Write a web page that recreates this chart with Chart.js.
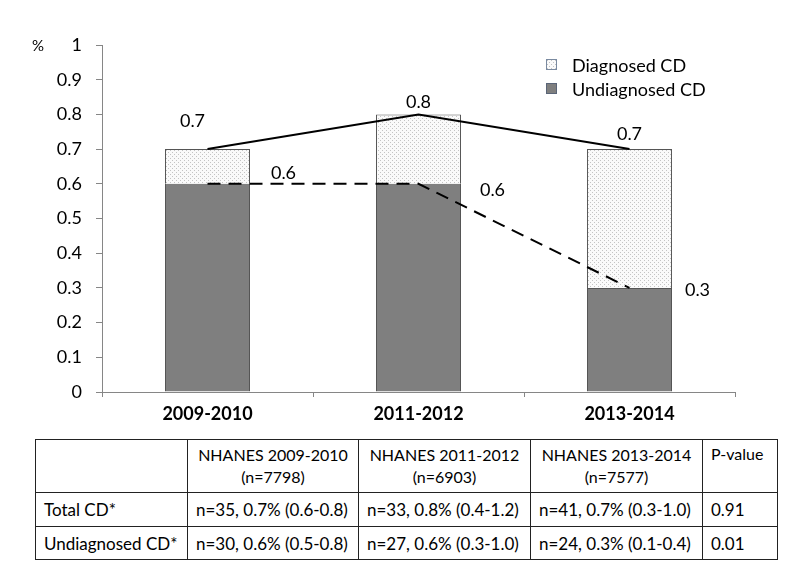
<!DOCTYPE html>
<html>
<head>
<meta charset="utf-8">
<script src="https://cdn.jsdelivr.net/npm/chart.js@4"></script>
<style>
  html, body { margin:0; padding:0; background:#fff; }
  body { width:800px; height:573px; position:relative; overflow:hidden; font-family: Lato, "Open Sans", sans-serif; color:#000; }
  #wrap { position:absolute; left:0; top:0; width:800px; height:430px; }
  #pct { position:absolute; left:32px; top:36px; font-size:15px; }
  .leg { position:absolute; left:546px; font-size:18px; line-height:20px; }
  .leg span.box { position:absolute; left:0; top:4px; width:11px; height:11px; box-sizing:border-box; border:1px solid #7a8aa0; }
  .leg span.txt { position:absolute; left:26px; top:0; white-space:nowrap; }
  table { position:absolute; left:35px; top:439px; border-collapse:collapse; font-size:17px; }
  td { border:1.5px solid #222; padding:0 8px; box-sizing:border-box; white-space:nowrap; vertical-align:middle; }
  td.hd { text-align:center; line-height:22px; font-size:16px; }
  td.pv { vertical-align:top; padding-top:4px; font-size:16px; }
</style>
</head>
<body>
<div id="wrap"><canvas id="c" width="800" height="430"></canvas></div>
<div id="pct">%</div>
<div class="leg" style="top:55px"><span class="box" id="lb1"></span><span class="txt" id="lt1"></span></div>
<div class="leg" style="top:79px"><span class="box" id="lb2" style="background:#7f7f7f;border-color:#5a6578"></span><span class="txt" id="lt2"></span></div>
<table id="tbl"></table>
<script>
const categories = ['2009-2010', '2011-2012', '2013-2014'];
const undiagnosedCD = [0.6, 0.6, 0.3];
const diagnosedCD = [0.1, 0.2, 0.4];
const totalCD = [0.7, 0.8, 0.7];
const seriesNames = ['Diagnosed CD', 'Undiagnosed CD'];

const tableHeader = ['', 'NHANES 2009-2010\n(n=7798)', 'NHANES 2011-2012\n(n=6903)', 'NHANES 2013-2014\n(n=7577)', 'P-value'];
const tableTotalRow = ['Total CD*', 'n=35, 0.7% (0.6-0.8)', 'n=33, 0.8% (0.4-1.2)', 'n=41, 0.7% (0.3-1.0)', '0.91'];
const tableUndiagRow = ['Undiagnosed CD*', 'n=30, 0.6% (0.5-0.8)', 'n=27, 0.6% (0.3-1.0)', 'n=24, 0.3% (0.1-0.4)', '0.01'];

// label offsets (styling)
const totalLabelOffsets = [[-15, -28], [0, -12], [0, -15]];
const undiagLabelOffsets = [[76, -11], [74, 6], [68, 2]];

// dotted pattern
const pc = document.createElement('canvas');
pc.width = 4; pc.height = 4;
const px = pc.getContext('2d');
px.fillStyle = '#fafafa'; px.fillRect(0, 0, 4, 4);
px.fillStyle = '#c4c4c4'; px.fillRect(0, 0, 1, 1); px.fillRect(2, 2, 1, 1);
const pattern = px.createPattern(pc, 'repeat');

document.getElementById('lb1').style.background = 'url(' + pc.toDataURL() + ')';
document.getElementById('lt1').textContent = seriesNames[0];
document.getElementById('lt2').textContent = seriesNames[1];

// table
const colW = [152, 171, 172, 172, 75];
const rowH = [53, 34, 33];
const tbl = document.getElementById('tbl');
[tableHeader, tableTotalRow, tableUndiagRow].forEach((row, ri) => {
  const tr = document.createElement('tr');
  tr.style.height = rowH[ri] + 'px';
  row.forEach((cell, ci) => {
    const td = document.createElement('td');
    td.style.width = colW[ci] + 'px';
    td.style.height = rowH[ri] + 'px';
    if (ri === 0 && ci >= 1 && ci <= 3) {
      td.className = 'hd';
      cell.split('\n').forEach((ln, k) => { if (k) td.appendChild(document.createElement('br')); td.appendChild(document.createTextNode(ln)); });
    } else {
      if (ri === 0 && ci === 4) td.className = 'pv';
      td.textContent = cell;
    }
    tr.appendChild(td);
  });
  tbl.appendChild(tr);
});

const FONT = 'Lato, "Open Sans", sans-serif';

const labelPlugin = {
  id: 'labels',
  afterDatasetsDraw(chart) {
    const ctx = chart.ctx;
    ctx.save();
    ctx.font = '18px ' + FONT;
    ctx.fillStyle = '#000';
    ctx.textAlign = 'center';
    ctx.textBaseline = 'middle';
    const mT = chart.getDatasetMeta(2), mU = chart.getDatasetMeta(3);
    mT.data.forEach((p, i) => ctx.fillText(String(totalCD[i]), p.x + totalLabelOffsets[i][0], p.y + totalLabelOffsets[i][1]));
    mU.data.forEach((p, i) => ctx.fillText(String(undiagnosedCD[i]), p.x + undiagLabelOffsets[i][0], p.y + undiagLabelOffsets[i][1]));
    ctx.restore();
  }
};

new Chart(document.getElementById('c'), {
  type: 'bar',
  data: {
    labels: categories,
    datasets: [
      { type: 'bar', label: seriesNames[1], data: undiagnosedCD, backgroundColor: '#7f7f7f', borderColor: '#555', borderWidth: 1, stack: 'bars', order: 2, categoryPercentage: 1, barPercentage: 0.403 },
      { type: 'bar', label: seriesNames[0], data: diagnosedCD, backgroundColor: pattern, borderColor: '#555', borderWidth: 1, stack: 'bars', order: 2, categoryPercentage: 1, barPercentage: 0.403 },
      { type: 'line', label: 'Total', data: totalCD, borderColor: '#000', borderWidth: 2, pointRadius: 0, fill: false, stack: 'lt', order: 0, tension: 0 },
      { type: 'line', label: 'Undiag', data: undiagnosedCD, borderColor: '#000', borderWidth: 2, borderDash: [13, 8], pointRadius: 0, fill: false, stack: 'lu', order: 0, tension: 0 }
    ]
  },
  options: {
    responsive: false,
    animation: false,
    events: [],
    layout: { padding: { top: 45, right: 65, left: 0, bottom: 0 } },
    plugins: { legend: { display: false }, tooltip: { enabled: false } },
    scales: {
      x: {
        stacked: true,
        grid: { display: true, drawOnChartArea: false, drawTicks: true, tickLength: 5, color: '#868686', offset: true },
        border: { color: '#868686', width: 1 },
        ticks: { font: { family: FONT, size: 18, weight: 'bold' }, color: '#000', padding: 6 },
        afterFit(s) { s.height = 38; }
      },
      y: {
        stacked: true,
        min: 0, max: 1,
        grid: { display: true, drawOnChartArea: false, drawTicks: true, tickLength: 6, color: '#868686' },
        border: { color: '#868686', width: 1 },
        ticks: { stepSize: 0.1, font: { family: FONT, size: 18 }, color: '#000', padding: 14,
          callback: v => String(Math.round(v * 10) / 10) },
        afterFit(s) { s.width = 102; }
      }
    }
  },
  plugins: [labelPlugin]
});
</script>
</body>
</html>
